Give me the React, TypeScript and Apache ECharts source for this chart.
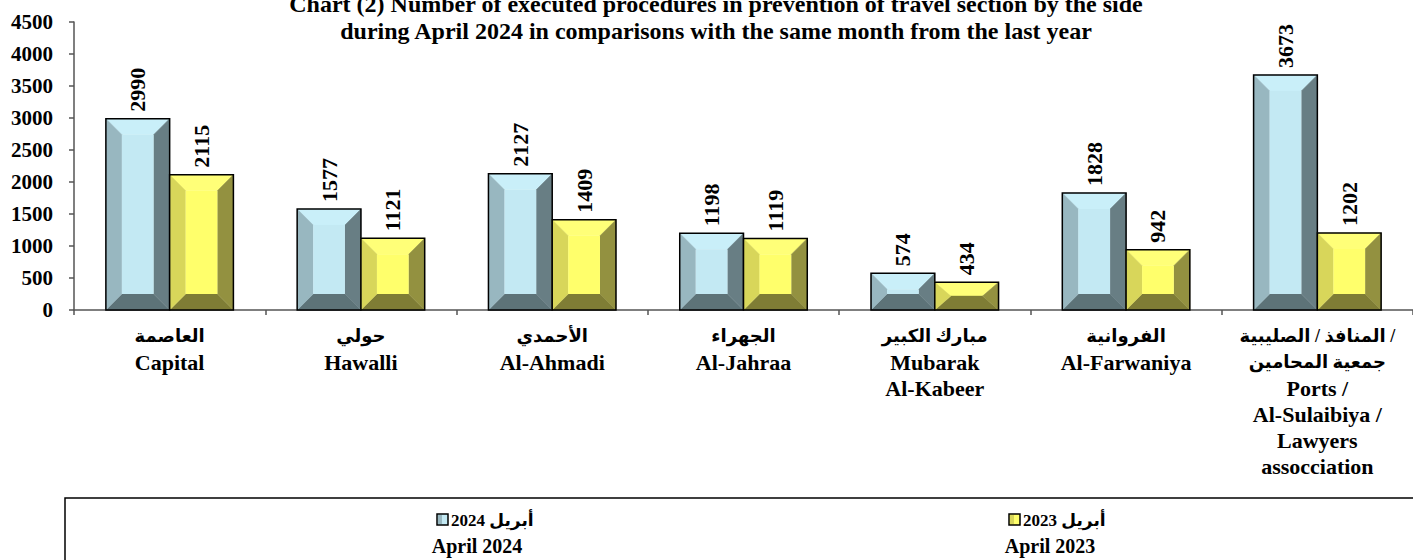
import React, { useEffect, useRef } from 'react';
import * as echarts from 'echarts';

const titleLines = [
  'Chart (2) Number of executed procedures in prevention of travel section by the side',
  'during April 2024 in comparisons with the same month from the last year',
];
const categoriesAr = [
  'العاصمة',
  'حولي',
  'الأحمدي',
  'الجهراء',
  'مبارك الكبير',
  'الفروانية',
  'المنافذ / الصليبية /\nجمعية المحامين',
];
const categoriesEn = [
  'Capital',
  'Hawalli',
  'Al-Ahmadi',
  'Al-Jahraa',
  'Mubarak\nAl-Kabeer',
  'Al-Farwaniya',
  'Ports /\nAl-Sulaibiya /\nLawyers\nassocciation',
];
const values2024 = [2990, 1577, 2127, 1198, 574, 1828, 3673];
const values2023 = [2115, 1121, 1409, 1119, 434, 942, 1202];
const seriesNamesAr = ['أبريل 2024', 'أبريل 2023'];
const seriesNamesEn = ['April 2024', 'April 2023'];
const yMin = 0;
const yMax = 4500;
const yInterval = 500;

const FONT = '"Liberation Serif", "Times New Roman", "DejaVu Sans", serif';

const palettes = [
  { top: '#c9eff9', center: '#c3e9f3', left: '#98b7c0', right: '#687e84', bottom: '#5d7378' },
  { top: '#ffff78', center: '#ffff6b', left: '#d8d65a', right: '#939140', bottom: '#7f7d35' },
];

function makeRenderItem(si: number) {
  return (params: any, api: any) => {
    const cat = api.value(0);
    const val = api.value(1);
    const p0 = api.coord([cat, 0]);
    const p1 = api.coord([cat, val]);
    const catW = api.size([1, 0])[0];
    const bw = catW / 3;
    const x0 = si === 0 ? p0[0] - bw : p0[0];
    const x1 = x0 + bw;
    const yTop = p1[1];
    const yBot = p0[1];
    const h = yBot - yTop;
    const bh = Math.min(16, bw / 2);
    const bv = Math.min(16, h / 2);
    const c = palettes[si];
    const poly = (pts: number[][], fill: string) => ({
      type: 'polygon',
      shape: { points: pts },
      style: { fill, stroke: fill, lineWidth: 0.5 },
    });
    return {
      type: 'group',
      children: [
        poly([[x0, yTop], [x1, yTop], [x1 - bh, yTop + bv], [x0 + bh, yTop + bv]], c.top),
        poly([[x0, yBot], [x1, yBot], [x1 - bh, yBot - bv], [x0 + bh, yBot - bv]], c.bottom),
        poly([[x0, yTop], [x0 + bh, yTop + bv], [x0 + bh, yBot - bv], [x0, yBot]], c.left),
        poly([[x1, yTop], [x1 - bh, yTop + bv], [x1 - bh, yBot - bv], [x1, yBot]], c.right),
        {
          type: 'rect',
          shape: { x: x0 + bh, y: yTop + bv, width: bw - 2 * bh, height: Math.max(0, h - 2 * bv) },
          style: { fill: c.center },
        },
        {
          type: 'rect',
          shape: { x: x0, y: yTop, width: bw, height: h },
          style: { fill: 'none', stroke: '#000', lineWidth: 1.5 },
        },
        {
          type: 'text',
          x: (x0 + x1) / 2,
          y: yTop - 7,
          rotation: Math.PI / 2,
          style: {
            text: String(val),
            fill: '#000',
            fontSize: 22,
            fontWeight: 'bold',
            fontFamily: FONT,
            align: 'left',
            verticalAlign: 'middle',
          },
        },
      ],
    };
  };
}

function legendItems(i: number, cx: number, swatchX: number) {
  const c = palettes[i];
  return [
    {
      type: 'rect',
      shape: { x: swatchX, y: 514, width: 11, height: 11 },
      style: { fill: c.center, stroke: '#000', lineWidth: 1.5 },
    },
    {
      type: 'rect',
      shape: { x: swatchX + 1, y: 515, width: 4, height: 9 },
      style: { fill: c.left },
    },
    {
      type: 'text',
      x: swatchX + 14,
      y: 520,
      style: {
        text: seriesNamesAr[i],
        fill: '#000',
        fontSize: 17,
        fontWeight: 'bold',
        fontFamily: FONT,
        align: 'left',
        verticalAlign: 'middle',
      },
    },
    {
      type: 'text',
      x: cx,
      y: 546,
      style: {
        text: seriesNamesEn[i],
        fill: '#000',
        fontSize: 20,
        fontWeight: 'bold',
        fontFamily: FONT,
        align: 'center',
        verticalAlign: 'middle',
      },
    },
  ];
}

export default function App() {
  const ref = useRef<HTMLDivElement>(null);
  useEffect(() => {
    if (!ref.current) return;
    const chart = echarts.init(ref.current, null, { renderer: 'svg' });
    const option: any = {
      animation: false,
      backgroundColor: '#fff',
      title: {
        text: titleLines.join('\n'),
        left: 711,
        top: -15,
        textAlign: 'center',
        textStyle: {
          fontSize: 24,
          fontWeight: 'bold',
          fontFamily: FONT,
          color: '#000',
          lineHeight: 27,
        },
      },
      grid: { left: 74, top: 22, width: 1344, height: 288, containLabel: false },
      xAxis: {
        type: 'category',
        data: categoriesEn,
        axisLine: { show: true, lineStyle: { color: '#555', width: 1.5 } },
        axisTick: { show: true, length: 5, lineStyle: { color: '#555', width: 1.5 } },
        axisLabel: {
          interval: 0,
          margin: 13,
          color: '#000',
          fontSize: 22,
          fontWeight: 'bold',
          fontFamily: FONT,
          lineHeight: 26,
          align: 'center',
          formatter: (_v: string, i: number) => {
            const ar = categoriesAr[i].split('\n').map((s) => `{ar|${s}}`);
            const en = categoriesEn[i].split('\n').map((s) => `{en|${s}}`);
            return ar.concat(en).join('\n');
          },
          rich: {
            ar: {
              fontSize: 18,
              fontWeight: 'bold',
              fontFamily: FONT,
              color: '#000',
              lineHeight: 26,
            },
            en: {
              fontSize: 22,
              fontWeight: 'bold',
              fontFamily: FONT,
              color: '#000',
              lineHeight: 26,
            },
          },
        },
        splitLine: { show: false },
      },
      yAxis: {
        type: 'value',
        min: yMin,
        max: yMax,
        interval: yInterval,
        axisLine: { show: true, lineStyle: { color: '#555', width: 1.5 } },
        axisTick: { show: true, length: 5, lineStyle: { color: '#555', width: 1.5 } },
        axisLabel: {
          margin: 21,
          color: '#000',
          fontSize: 21,
          fontWeight: 'bold',
          fontFamily: FONT,
          formatter: (v: number) => String(v),
        },
        splitLine: { show: false },
      },
      series: [
        {
          type: 'custom',
          name: seriesNamesEn[0],
          renderItem: makeRenderItem(0),
          encode: { x: 0, y: 1 },
          data: values2024.map((v, i) => [i, v]),
          clip: false,
          z: 3,
        },
        {
          type: 'custom',
          name: seriesNamesEn[1],
          renderItem: makeRenderItem(1),
          encode: { x: 0, y: 1 },
          data: values2023.map((v, i) => [i, v]),
          clip: false,
          z: 3,
        },
      ],
      graphic: [
        {
          type: 'rect',
          shape: { x: 65, y: 498, width: 1360, height: 80 },
          style: { fill: 'none', stroke: '#000', lineWidth: 1.5 },
        },
        ...legendItems(0, 477, 437),
        ...legendItems(1, 1050, 1009),
      ],
    };
    chart.setOption(option);
    return () => chart.dispose();
  }, []);
  return (
    <div
      ref={ref}
      style={{ position: 'absolute', left: 0, top: 0, width: 1413, height: 560, background: '#fff' }}
    />
  );
}
